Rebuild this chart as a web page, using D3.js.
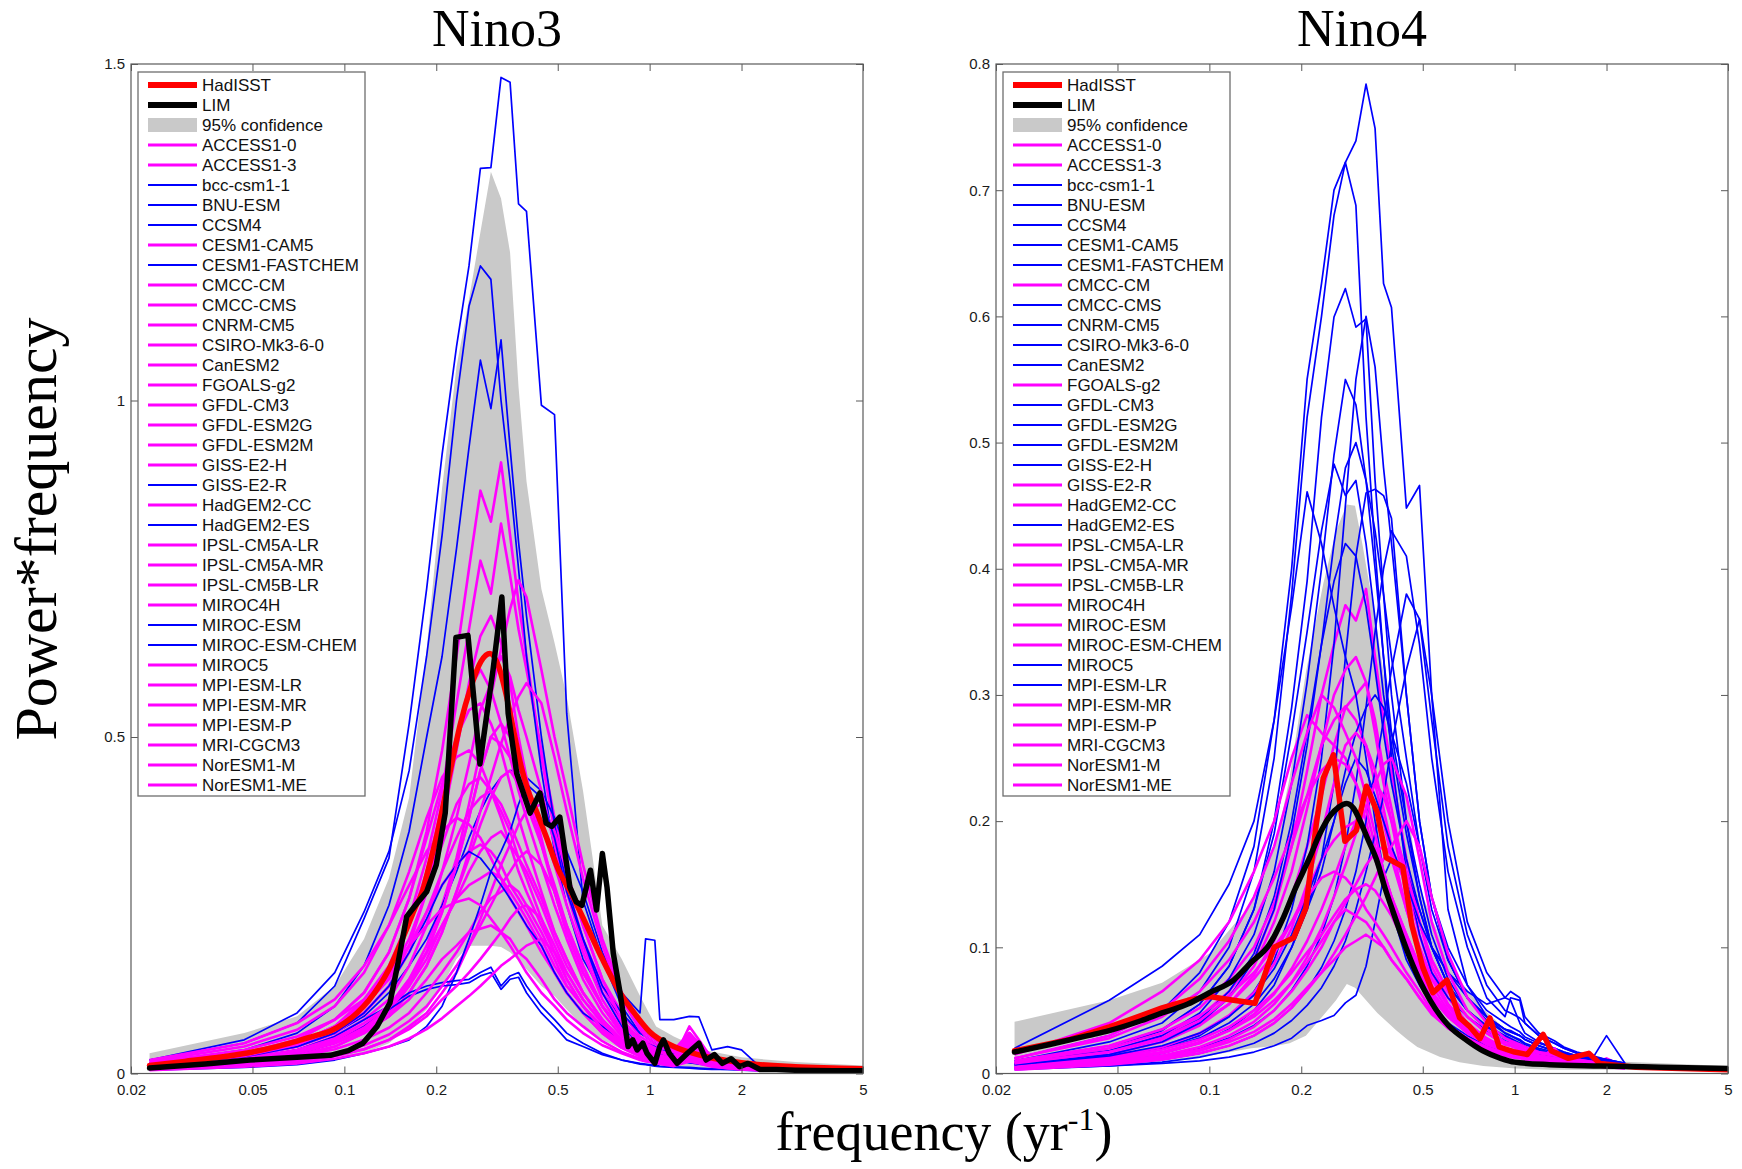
<!DOCTYPE html>
<html>
<head>
<meta charset="utf-8">
<script src="https://cdn.jsdelivr.net/npm/d3@7"></script>
<style>
  body { margin: 0; background: #fff; }
  svg { display: block; }
</style>
</head>
<body>
<svg id="fig" width="1742" height="1169"></svg>
<script>
// ---- shared axis definitions ----
const xTickValues = [0.02, 0.05, 0.1, 0.2, 0.5, 1, 2, 5];
const xTickLabels = ["0.02", "0.05", "0.1", "0.2", "0.5", "1", "2", "5"];
const nino3YTicks = [0, 0.5, 1, 1.5];
const nino3YTickLabels = ["0", "0.5", "1", "1.5"];
const nino4YTicks = [0, 0.1, 0.2, 0.3, 0.4, 0.5, 0.6, 0.7, 0.8];
const nino4YTickLabels = ["0", "0.1", "0.2", "0.3", "0.4", "0.5", "0.6", "0.7", "0.8"];

// ---- CMIP5 models (legend order) ----
const modelNames = ["ACCESS1-0", "ACCESS1-3", "bcc-csm1-1", "BNU-ESM", "CCSM4", "CESM1-CAM5",
  "CESM1-FASTCHEM", "CMCC-CM", "CMCC-CMS", "CNRM-CM5", "CSIRO-Mk3-6-0", "CanESM2", "FGOALS-g2",
  "GFDL-CM3", "GFDL-ESM2G", "GFDL-ESM2M", "GISS-E2-H", "GISS-E2-R", "HadGEM2-CC", "HadGEM2-ES",
  "IPSL-CM5A-LR", "IPSL-CM5A-MR", "IPSL-CM5B-LR", "MIROC4H", "MIROC-ESM", "MIROC-ESM-CHEM",
  "MIROC5", "MPI-ESM-LR", "MPI-ESM-MR", "MPI-ESM-P", "MRI-CGCM3", "NorESM1-M", "NorESM1-ME"];

// models whose Nino variance exceeds the observed range are drawn in blue
const nino3BlueModels = ["bcc-csm1-1", "BNU-ESM", "CCSM4", "CESM1-FASTCHEM", "GISS-E2-R",
  "HadGEM2-ES", "MIROC-ESM", "MIROC-ESM-CHEM"];
const nino4BlueModels = ["bcc-csm1-1", "BNU-ESM", "CCSM4", "CESM1-CAM5", "CESM1-FASTCHEM",
  "CMCC-CMS", "CNRM-CM5", "CSIRO-Mk3-6-0", "CanESM2", "GFDL-CM3", "GFDL-ESM2G", "GFDL-ESM2M",
  "GISS-E2-H", "HadGEM2-ES", "MIROC5", "MPI-ESM-LR"];

// frequency grid (1/yr) of the model spectra
const modelFreq = [0.023, 0.047, 0.07, 0.093, 0.116, 0.14, 0.163, 0.186, 0.209, 0.233,
  0.256, 0.279, 0.302, 0.326, 0.349, 0.372, 0.395, 0.442, 0.488, 0.535,
  0.605, 0.7, 0.81, 0.93, 0.97, 1.04, 1.08, 1.2, 1.35, 1.45,
  1.6, 1.8, 2.0, 2.3];

// ---- Nino3: power*frequency of each model, legend order ----
const nino3Models = [
  [.015,.03,.05,.08,.12,.18,.26,.36,.48,.62,.75,.866,.82,.908,.8,.7,.62,.47,.36,.28,.2,.13,.08,.05,.045,.035,.032,.025,.04,.03,.02,.015,.012,.008],
  [.014,.028,.045,.07,.11,.16,.23,.32,.42,.55,.66,.762,.713,.817,.74,.66,.6,.48,.38,.3,.22,.14,.09,.055,.05,.04,.035,.028,.05,.035,.022,.016,.012,.008],
  [.015,.035,.06,.1,.16,.25,.36,.5,.62,.78,.93,1.06,.988,1.09,.93,.79,.68,.5,.37,.28,.2,.13,.09,.06,.055,.045,.04,.03,.025,.02,.016,.012,.01,.008],
  [.02,.05,.09,.15,.24,.33,.45,.62,.8,1.0,1.14,1.2,1.18,1.0,.88,.75,.62,.45,.33,.25,.17,.12,.08,.05,.045,.04,.035,.03,.022,.02,.016,.012,.01,.007],
  [.02,.045,.075,.13,.23,.32,.52,.72,.92,1.08,1.2,1.345,1.346,1.48,1.473,1.292,1.281,.993,.979,.535,.257,.17,.1,.06,.055,.045,.04,.03,.025,.02,.018,.014,.012,.008],
  [.01,.02,.03,.05,.07,.1,.14,.19,.25,.32,.4,.48,.56,.63,.69,.733,.708,.6,.5,.42,.31,.2,.12,.07,.06,.05,.045,.035,.06,.045,.025,.018,.012,.008],
  [.012,.025,.04,.06,.085,.12,.16,.2,.25,.3,.35,.39,.42,.44,.45,.45,.44,.42,.38,.33,.27,.18,.12,.09,.2,.198,.08,.08,.085,.084,.035,.04,.035,.01],
  [.012,.025,.04,.06,.09,.13,.19,.27,.37,.48,.58,.65,.68,.64,.58,.5,.44,.35,.27,.21,.15,.1,.065,.04,.036,.03,.028,.022,.035,.03,.018,.014,.01,.007],
  [.01,.02,.035,.055,.08,.11,.16,.22,.3,.38,.46,.54,.58,.62,.59,.54,.5,.42,.34,.27,.19,.12,.075,.045,.04,.034,.03,.024,.04,.03,.02,.014,.01,.007],
  [.008,.015,.025,.04,.06,.085,.12,.16,.21,.27,.33,.39,.44,.49,.53,.56,.58,.55,.47,.39,.29,.19,.11,.065,.055,.045,.04,.032,.055,.04,.024,.016,.012,.008],
  [.014,.03,.05,.08,.12,.18,.26,.35,.43,.5,.54,.55,.52,.48,.43,.38,.34,.27,.21,.17,.12,.08,.05,.032,.03,.025,.022,.018,.03,.025,.015,.012,.009,.006],
  [.01,.02,.03,.045,.065,.09,.13,.18,.24,.31,.38,.45,.5,.52,.5,.46,.42,.34,.27,.21,.15,.1,.06,.038,.035,.03,.026,.02,.06,.04,.02,.014,.01,.007],
  [.018,.04,.065,.1,.15,.22,.3,.38,.44,.47,.48,.46,.42,.38,.34,.3,.27,.22,.18,.14,.1,.07,.045,.03,.028,.024,.02,.016,.025,.02,.013,.01,.008,.006],
  [.009,.018,.028,.04,.06,.085,.12,.16,.21,.27,.32,.37,.41,.44,.45,.43,.4,.34,.28,.22,.16,.1,.06,.04,.036,.03,.027,.022,.07,.05,.022,.015,.011,.007],
  [.012,.025,.04,.06,.09,.13,.18,.24,.3,.35,.39,.41,.42,.4,.37,.34,.31,.26,.21,.17,.12,.08,.05,.033,.03,.025,.022,.018,.04,.03,.016,.012,.009,.006],
  [.006,.012,.018,.026,.036,.05,.07,.09,.12,.15,.19,.23,.27,.31,.34,.37,.39,.4,.36,.3,.22,.14,.08,.05,.045,.038,.034,.027,.05,.04,.024,.016,.012,.008],
  [.02,.045,.075,.11,.16,.22,.28,.33,.36,.38,.37,.35,.32,.29,.26,.24,.22,.18,.15,.12,.09,.06,.04,.027,.025,.02,.018,.015,.02,.018,.012,.009,.007,.005],
  [.012,.022,.035,.055,.08,.1,.12,.13,.135,.138,.14,.15,.158,.13,.145,.15,.13,.1,.08,.06,.045,.03,.02,.015,.014,.012,.011,.01,.009,.008,.007,.006,.006,.005],
  [.01,.02,.032,.048,.07,.095,.13,.17,.22,.26,.3,.33,.35,.36,.34,.32,.3,.25,.2,.16,.12,.08,.05,.033,.03,.026,.023,.018,.045,.035,.018,.013,.01,.007],
  [.01,.02,.03,.045,.07,.095,.115,.125,.13,.132,.135,.145,.15,.125,.14,.143,.12,.09,.07,.05,.04,.028,.02,.014,.013,.011,.01,.009,.008,.007,.006,.006,.005,.004],
  [.013,.028,.045,.07,.1,.14,.19,.24,.28,.31,.33,.34,.33,.31,.28,.26,.24,.2,.16,.13,.1,.065,.04,.028,.025,.021,.019,.015,.03,.022,.014,.01,.008,.006],
  [.007,.014,.021,.03,.042,.058,.078,.1,.13,.16,.19,.22,.25,.28,.3,.32,.33,.31,.27,.22,.16,.1,.06,.04,.035,.03,.027,.021,.06,.045,.02,.014,.01,.007],
  [.011,.022,.035,.052,.075,.1,.14,.18,.22,.26,.28,.29,.3,.29,.27,.25,.23,.19,.15,.12,.09,.06,.038,.025,.023,.02,.018,.014,.025,.02,.012,.009,.007,.005],
  [.008,.016,.025,.036,.05,.068,.09,.12,.15,.18,.21,.24,.26,.27,.28,.27,.25,.21,.17,.13,.1,.065,.042,.028,.026,.022,.02,.016,.04,.03,.015,.011,.008,.006],
  [.005,.009,.013,.02,.03,.04,.05,.07,.1,.15,.2,.25,.3,.33,.36,.4,.43,.41,.35,.27,.2,.12,.07,.04,.036,.03,.028,.02,.016,.014,.012,.01,.008,.006],
  [.012,.025,.04,.06,.09,.13,.18,.23,.28,.31,.33,.32,.3,.28,.26,.24,.22,.19,.15,.12,.09,.07,.05,.035,.032,.028,.025,.02,.016,.015,.012,.01,.009,.007],
  [.016,.035,.055,.08,.11,.15,.19,.22,.245,.255,.26,.25,.23,.21,.19,.17,.15,.12,.1,.08,.06,.042,.03,.02,.018,.016,.014,.011,.018,.015,.01,.008,.006,.005],
  [.006,.012,.018,.026,.036,.05,.066,.085,.11,.13,.15,.17,.19,.21,.23,.245,.25,.23,.19,.15,.11,.075,.048,.032,.029,.025,.022,.018,.05,.035,.016,.012,.009,.006],
  [.01,.02,.03,.045,.062,.085,.11,.14,.17,.19,.21,.215,.22,.21,.2,.18,.17,.14,.11,.09,.07,.048,.032,.022,.02,.018,.016,.013,.022,.018,.011,.008,.006,.005],
  [.005,.01,.015,.022,.03,.04,.052,.066,.082,.1,.115,.13,.145,.16,.17,.18,.19,.2,.18,.15,.11,.075,.05,.034,.03,.026,.023,.019,.04,.03,.016,.012,.009,.006],
  [.012,.026,.043,.066,.1,.145,.2,.27,.34,.4,.43,.44,.42,.39,.36,.32,.29,.23,.18,.14,.1,.066,.042,.028,.026,.022,.02,.016,.03,.024,.014,.01,.008,.006],
  [.009,.018,.03,.046,.068,.097,.135,.18,.24,.31,.38,.45,.5,.49,.47,.44,.42,.37,.31,.25,.18,.11,.065,.04,.036,.03,.027,.022,.045,.035,.02,.014,.01,.007],
  [.013,.027,.045,.07,.105,.15,.22,.3,.4,.5,.57,.6,.57,.52,.47,.42,.38,.31,.25,.2,.14,.09,.055,.035,.032,.027,.024,.019,.03,.025,.016,.012,.009,.006]
];

// ---- Nino3: observations, LIM and 95% band ----
const nino3HadFreq = [0.023,0.03,0.04,0.05,0.06,0.07,0.08,0.09,0.1,0.11,0.12,0.13,0.14,0.15,0.16,0.17,0.18,0.19,0.2,0.22,0.24,0.26,0.28,0.3,0.32,0.34,0.36,0.38,0.4,0.43,0.46,0.5,0.55,0.6,0.7,0.8,0.9,1.0,1.2,1.5,2,3,5];
const nino3HadVal = [0.012,0.018,0.025,0.032,0.04,0.048,0.056,0.063,0.075,0.09,0.108,0.13,0.155,0.185,0.215,0.245,0.27,0.31,0.35,0.44,0.52,0.575,0.612,0.624,0.605,0.56,0.505,0.455,0.42,0.385,0.35,0.305,0.27,0.235,0.17,0.12,0.087,0.062,0.04,0.026,0.016,0.01,0.007];
const nino3LimFreq = [0.023,0.035,0.049,0.07,0.09,0.103,0.115,0.128,0.141,0.15,0.16,0.173,0.186,0.2,0.214,0.232,0.254,0.278,0.307,0.328,0.344,0.367,0.406,0.437,0.458,0.478,0.508,0.548,0.575,0.6,0.64,0.67,0.70,0.725,0.76,0.80,0.85,0.88,0.91,0.95,0.98,1.04,1.08,1.11,1.16,1.23,1.33,1.45,1.53,1.63,1.73,1.85,1.97,2.1,2.3,2.6,3,4,5];
const nino3LimVal = [0.008,0.014,0.02,0.024,0.027,0.034,0.045,0.07,0.105,0.165,0.233,0.253,0.27,0.31,0.387,0.648,0.651,0.46,0.6,0.708,0.535,0.446,0.387,0.417,0.372,0.367,0.381,0.277,0.255,0.25,0.302,0.243,0.327,0.277,0.179,0.12,0.04,0.05,0.035,0.045,0.03,0.015,0.04,0.05,0.03,0.015,0.03,0.045,0.02,0.028,0.015,0.022,0.01,0.015,0.006,0.006,0.005,0.004,0.004];
const nino3BandFreq = [0.023,0.047,0.07,0.093,0.116,0.14,0.163,0.186,0.209,0.233,0.256,0.279,0.302,0.326,0.349,0.372,0.395,0.442,0.488,0.535,0.605,0.7,0.81,0.93,1.05,1.2,1.5,2,3,5];
const nino3BandUpper = [0.03,0.06,0.085,0.13,0.2,0.29,0.41,0.63,0.87,1.05,1.15,1.25,1.34,1.3,1.22,1.02,0.88,0.72,0.64,0.56,0.42,0.22,0.17,0.115,0.07,0.055,0.035,0.024,0.017,0.012];
const nino3BandLower = [0.008,0.013,0.016,0.024,0.03,0.045,0.07,0.095,0.13,0.17,0.19,0.19,0.19,0.188,0.18,0.168,0.155,0.13,0.115,0.095,0.07,0.05,0.036,0.024,0.018,0.012,0.008,0.006,0.005,0.004];

// ---- Nino4: power*frequency of each model, legend order ----
const nino4Models = [
  [.008,.018,.03,.045,.065,.09,.13,.18,.24,.3,.34,.371,.359,.384,.33,.28,.24,.17,.12,.085,.06,.04,.028,.02,.019,.017,.015,.013,.011,.01,.009,.008,.007,.005],
  [.007,.015,.025,.038,.055,.078,.105,.14,.18,.22,.26,.29,.3,.31,.28,.24,.21,.15,.11,.08,.055,.037,.026,.019,.018,.016,.014,.012,.011,.01,.009,.008,.012,.005],
  [.012,.03,.05,.08,.12,.18,.28,.4,.55,.626,.70,.722,.739,.784,.749,.626,.607,.448,.466,.3,.13,.07,.045,.032,.03,.026,.023,.019,.016,.014,.012,.01,.008,.006],
  [.01,.025,.04,.065,.1,.16,.25,.38,.52,.6,.68,.722,.688,.52,.415,.33,.25,.16,.11,.08,.06,.045,.034,.026,.024,.021,.019,.016,.013,.012,.01,.008,.007,.005],
  [.008,.02,.034,.055,.085,.13,.2,.29,.39,.52,.5995,.622,.5915,.598,.47,.38,.3,.2,.14,.1,.07,.05,.038,.03,.028,.024,.021,.018,.015,.013,.011,.009,.008,.006],
  [.01,.022,.035,.055,.085,.13,.19,.27,.35,.43,.483,.458,.47,.42,.36,.3,.26,.19,.14,.1,.07,.05,.037,.029,.027,.024,.021,.018,.015,.013,.011,.009,.008,.006],
  [.02,.058,.085,.11,.15,.2,.28,.37,.461,.42,.37,.33,.3,.25,.2,.16,.13,.09,.07,.055,.04,.03,.022,.017,.016,.014,.013,.011,.01,.009,.008,.007,.006,.005],
  [.015,.04,.065,.09,.12,.16,.2,.25,.284,.27,.26,.25,.23,.2,.17,.15,.13,.1,.075,.06,.045,.032,.023,.018,.017,.015,.013,.011,.01,.009,.008,.007,.006,.005],
  [.005,.01,.016,.024,.035,.05,.07,.1,.13,.17,.23,.33,.41,.46,.463,.458,.44,.3,.2,.14,.09,.06,.042,.032,.03,.027,.024,.02,.017,.015,.012,.01,.009,.007],
  [.004,.006,.008,.01,.013,.017,.022,.028,.038,.042,.046,.056,.062,.085,.12,.155,.17,.16,.13,.1,.07,.05,.035,.025,.024,.021,.019,.016,.013,.012,.01,.008,.007,.005],
  [.008,.017,.028,.043,.065,.095,.14,.2,.27,.34,.39,.42,.41,.37,.32,.27,.23,.17,.13,.1,.08,.065,.055,.06,.058,.04,.032,.025,.02,.017,.014,.012,.01,.007],
  [.006,.012,.02,.03,.045,.065,.09,.13,.18,.25,.34,.45,.55,.6,.56,.48,.42,.3,.2,.14,.09,.06,.045,.035,.034,.03,.027,.022,.018,.016,.013,.011,.009,.007],
  [.01,.022,.035,.052,.075,.1,.135,.18,.22,.26,.28,.291,.28,.26,.23,.2,.17,.13,.1,.075,.055,.038,.027,.02,.019,.017,.015,.013,.011,.01,.009,.008,.007,.005],
  [.005,.009,.014,.02,.028,.038,.05,.066,.085,.11,.14,.18,.23,.29,.35,.4,.43,.41,.34,.25,.16,.1,.06,.045,.06,.058,.04,.03,.024,.02,.016,.013,.011,.008],
  [.004,.007,.011,.016,.022,.03,.04,.052,.066,.084,.105,.13,.16,.2,.24,.28,.32,.38,.36,.28,.18,.11,.07,.05,.048,.044,.04,.03,.024,.02,.016,.013,.011,.008],
  [.006,.012,.019,.028,.04,.055,.075,.1,.13,.16,.2,.24,.27,.29,.3,.29,.27,.23,.18,.14,.1,.07,.05,.04,.037,.033,.029,.024,.02,.017,.014,.012,.01,.007],
  [.008,.018,.03,.048,.075,.11,.16,.23,.31,.4,.49,.55,.53,.47,.4,.33,.27,.2,.15,.11,.075,.05,.037,.028,.026,.023,.021,.018,.015,.013,.011,.009,.008,.006],
  [.006,.013,.021,.032,.046,.064,.087,.115,.15,.19,.23,.26,.27,.26,.24,.21,.18,.13,.095,.07,.05,.035,.025,.018,.017,.015,.014,.012,.02,.012,.009,.008,.007,.005],
  [.012,.028,.045,.065,.09,.12,.155,.19,.22,.24,.25,.245,.23,.21,.18,.16,.14,.11,.085,.065,.048,.034,.025,.019,.018,.016,.014,.012,.011,.01,.009,.008,.007,.005],
  [.003,.006,.009,.013,.018,.024,.032,.042,.054,.068,.085,.105,.13,.16,.19,.22,.26,.32,.36,.3,.2,.12,.08,.06,.065,.06,.045,.032,.026,.021,.017,.014,.011,.008],
  [.005,.01,.016,.024,.034,.047,.063,.083,.105,.13,.155,.18,.2,.22,.23,.22,.2,.16,.12,.09,.065,.045,.032,.023,.022,.019,.017,.014,.012,.011,.01,.008,.007,.005],
  [.008,.017,.027,.04,.055,.075,.095,.12,.145,.17,.185,.195,.2,.19,.175,.16,.14,.11,.085,.065,.048,.034,.025,.019,.018,.016,.014,.012,.011,.01,.009,.008,.007,.005],
  [.004,.008,.013,.019,.027,.037,.05,.065,.082,.1,.12,.135,.15,.165,.175,.18,.175,.15,.12,.09,.065,.045,.032,.023,.022,.019,.017,.014,.012,.011,.01,.008,.007,.005],
  [.009,.02,.032,.046,.062,.08,.1,.12,.14,.155,.16,.155,.145,.13,.12,.11,.1,.08,.065,.05,.038,.028,.021,.016,.015,.014,.012,.011,.01,.009,.008,.007,.006,.005],
  [.006,.012,.019,.027,.037,.05,.064,.08,.096,.11,.125,.138,.146,.15,.145,.135,.125,.1,.08,.062,.046,.033,.024,.018,.017,.015,.013,.012,.01,.009,.008,.007,.006,.005],
  [.005,.011,.017,.025,.034,.045,.058,.072,.088,.105,.12,.13,.125,.12,.11,.1,.09,.075,.06,.048,.036,.027,.02,.015,.014,.013,.012,.01,.009,.008,.007,.006,.006,.004],
  [.007,.014,.022,.032,.045,.062,.083,.11,.14,.17,.2,.23,.25,.24,.22,.2,.18,.15,.12,.1,.08,.06,.045,.035,.033,.03,.027,.022,.018,.016,.014,.012,.03,.008],
  [.007,.015,.025,.04,.06,.09,.13,.19,.26,.34,.42,.48,.5,.47,.43,.38,.33,.25,.18,.13,.09,.06,.045,.035,.033,.03,.027,.022,.018,.015,.013,.011,.009,.007],
  [.004,.008,.012,.018,.025,.033,.043,.055,.068,.08,.09,.1,.105,.11,.105,.1,.09,.075,.06,.047,.036,.026,.019,.014,.013,.012,.011,.01,.009,.008,.007,.006,.005,.004],
  [.004,.009,.014,.021,.03,.041,.055,.072,.092,.115,.14,.165,.19,.21,.23,.245,.25,.22,.17,.12,.08,.05,.035,.025,.024,.021,.019,.016,.014,.013,.011,.009,.008,.006],
  [.008,.017,.028,.042,.06,.085,.12,.16,.21,.26,.3,.32,.33,.31,.27,.23,.2,.14,.1,.075,.053,.036,.026,.019,.018,.016,.014,.012,.011,.01,.009,.008,.007,.005],
  [.003,.007,.011,.016,.022,.03,.04,.052,.066,.08,.095,.11,.125,.14,.155,.17,.18,.2,.18,.14,.095,.06,.04,.028,.026,.023,.021,.017,.015,.013,.011,.009,.008,.006],
  [.012,.03,.05,.075,.105,.14,.18,.23,.27,.3,.29,.27,.25,.22,.19,.16,.14,.105,.08,.06,.045,.032,.024,.018,.017,.015,.013,.011,.01,.009,.008,.007,.006,.005]
];

// ---- Nino4: observations, LIM and 95% band ----
const nino4HadFreq = [0.023,0.035,0.047,0.06,0.07,0.085,0.1,0.12,0.141,0.163,0.189,0.207,0.224,0.236,0.255,0.278,0.303,0.327,0.354,0.38,0.43,0.46,0.5,0.54,0.6,0.66,0.71,0.77,0.83,0.89,1.0,1.1,1.24,1.32,1.5,1.75,1.9,2.5,3.5,5];
const nino4HadVal = [0.018,0.027,0.037,0.046,0.052,0.058,0.061,0.058,0.0556,0.1,0.1076,0.131,0.1976,0.234,0.2526,0.184,0.1926,0.2277,0.2076,0.171,0.164,0.118,0.0843,0.064,0.074,0.0443,0.0376,0.0276,0.044,0.021,0.017,0.015,0.031,0.0178,0.012,0.016,0.008,0.005,0.004,0.003];
const nino4LimFreq = [0.023,0.03,0.04,0.047,0.06,0.07,0.085,0.1,0.12,0.137,0.157,0.175,0.19,0.213,0.23,0.248,0.265,0.282,0.297,0.312,0.33,0.355,0.375,0.4,0.425,0.455,0.49,0.53,0.57,0.61,0.7,0.79,0.9,1.0,1.3,1.9,3,5];
const nino4LimVal = [0.017,0.023,0.03,0.034,0.042,0.048,0.055,0.064,0.074,0.088,0.102,0.124,0.145,0.171,0.19,0.204,0.211,0.214,0.21,0.2,0.186,0.1676,0.148,0.128,0.11,0.091,0.073,0.0576,0.046,0.0376,0.026,0.0178,0.012,0.009,0.007,0.006,0.005,0.004];
const nino4BandFreq = [0.023,0.047,0.07,0.1,0.137,0.166,0.183,0.207,0.236,0.26,0.282,0.3,0.318,0.355,0.41,0.445,0.48,0.57,0.66,0.79,1.01,1.3,2,5];
const nino4BandUpper = [0.041,0.058,0.072,0.095,0.134,0.184,0.234,0.3176,0.388,0.43,0.451,0.45,0.418,0.351,0.244,0.2176,0.151,0.1076,0.074,0.051,0.0276,0.0178,0.01,0.006];
const nino4BandLower = [0.004,0.007,0.01,0.014,0.02,0.022,0.024,0.03,0.046,0.058,0.071,0.068,0.061,0.048,0.034,0.027,0.021,0.013,0.009,0.006,0.004,0.003,0.003,0.002];

// ---- drawing ----
const svg = d3.select("#fig");
const plotTop = 64, plotBottom = 1073.5;
const BLUE = "#0000ff", MAGENTA = "#ff00ff", RED = "#ff0000", BAND = "#c9c9c9";
const sansFont = "'Liberation Sans', Arial, Helvetica, sans-serif";
const serifFont = "'Liberation Serif', 'Times New Roman', Times, serif";

const panels = [
  { title: "Nino3", left: 131, right: 863, yMax: 1.5, yTicks: nino3YTicks, yLabels: nino3YTickLabels,
    models: nino3Models, blue: new Set(nino3BlueModels),
    had: { f: nino3HadFreq, v: nino3HadVal, smooth: true },
    lim: { f: nino3LimFreq, v: nino3LimVal, smooth: false },
    band: { f: nino3BandFreq, lo: nino3BandLower, hi: nino3BandUpper } },
  { title: "Nino4", left: 996, right: 1728, yMax: 0.8, yTicks: nino4YTicks, yLabels: nino4YTickLabels,
    models: nino4Models, blue: new Set(nino4BlueModels),
    had: { f: nino4HadFreq, v: nino4HadVal, smooth: false },
    lim: { f: nino4LimFreq, v: nino4LimVal, smooth: true },
    band: { f: nino4BandFreq, lo: nino4BandLower, hi: nino4BandUpper } }
];

panels.forEach((p, pi) => {
  const x = d3.scaleLog().domain([0.02, 5]).range([p.left, p.right]);
  const y = d3.scaleLinear().domain([0, p.yMax]).range([plotBottom, plotTop]);
  const g = svg.append("g");

  const clipId = "clip" + pi;
  svg.append("clipPath").attr("id", clipId).append("rect")
    .attr("x", p.left).attr("y", plotTop)
    .attr("width", p.right - p.left).attr("height", plotBottom - plotTop);
  const plot = g.append("g").attr("clip-path", `url(#${clipId})`);

  // 95% confidence band
  const bandPts = p.band.f.map((f, i) => ({ f, lo: p.band.lo[i], hi: p.band.hi[i] }));
  plot.append("path").datum(bandPts)
    .attr("fill", BAND).attr("stroke", "none")
    .attr("d", d3.area().x(d => x(d.f)).y0(d => y(d.lo)).y1(d => y(d.hi)));

  // model spectra
  const line = d3.line().x(d => x(d[0])).y(d => y(d[1]));
  p.models.forEach((vals, mi) => {
    const isBlue = p.blue.has(modelNames[mi]);
    plot.append("path").datum(modelFreq.map((f, k) => [f, vals[k]]))
      .attr("fill", "none")
      .attr("stroke", isBlue ? BLUE : MAGENTA)
      .attr("stroke-width", isBlue ? 1.7 : 2.6)
      .attr("stroke-linejoin", "round")
      .attr("d", line);
  });

  // HadISST and LIM
  const thick = (s, color) => {
    const gen = d3.line().x(d => x(d[0])).y(d => y(d[1]));
    if (s.smooth) gen.curve(d3.curveMonotoneX);
    plot.append("path").datum(s.f.map((f, k) => [f, s.v[k]]))
      .attr("fill", "none").attr("stroke", color).attr("stroke-width", 5.5)
      .attr("stroke-linejoin", "round").attr("stroke-linecap", "round")
      .attr("d", gen);
  };
  thick(p.had, RED);
  thick(p.lim, "#000");

  // axes (ticks point inward on all four sides)
  const axisColor = "#5a5a5a";
  const styleAxis = sel => {
    sel.select(".domain").remove();
    sel.selectAll(".tick line").attr("stroke", axisColor);
    sel.selectAll(".tick text").attr("fill", "#1a1a1a")
      .style("font-family", sansFont).style("font-size", "15px");
  };
  g.append("g").attr("transform", `translate(0,${plotBottom})`)
    .call(d3.axisBottom(x).tickValues(xTickValues).tickFormat((d, i) => xTickLabels[i])
      .tickSizeInner(-7).tickSizeOuter(0).tickPadding(11))
    .call(styleAxis);
  g.append("g").attr("transform", `translate(0,${plotTop})`)
    .call(d3.axisTop(x).tickValues(xTickValues).tickFormat("").tickSizeInner(-7).tickSizeOuter(0))
    .call(styleAxis);
  g.append("g").attr("transform", `translate(${p.left},0)`)
    .call(d3.axisLeft(y).tickValues(p.yTicks).tickFormat((d, i) => p.yLabels[i])
      .tickSizeInner(-7).tickSizeOuter(0).tickPadding(6))
    .call(styleAxis);
  g.append("g").attr("transform", `translate(${p.right},0)`)
    .call(d3.axisRight(y).tickValues(p.yTicks).tickFormat("").tickSizeInner(-7).tickSizeOuter(0))
    .call(styleAxis);
  g.append("rect").attr("x", p.left).attr("y", plotTop)
    .attr("width", p.right - p.left).attr("height", plotBottom - plotTop)
    .attr("fill", "none").attr("stroke", axisColor).attr("stroke-width", 1.2);

  // legend
  const lx = p.left + 7, ly = plotTop + 8, lw = 227, rowH = 20;
  const entries = [
    { label: "HadISST", kind: "line", color: RED, w: 6 },
    { label: "LIM", kind: "line", color: "#000", w: 6 },
    { label: "95% confidence", kind: "band" }
  ].concat(modelNames.map(n => {
    const b = p.blue.has(n);
    return { label: n, kind: "line", color: b ? BLUE : MAGENTA, w: b ? 2 : 3 };
  }));
  const leg = g.append("g");
  leg.append("rect").attr("x", lx).attr("y", ly).attr("width", lw)
    .attr("height", entries.length * rowH + 4)
    .attr("fill", "#fff").attr("stroke", "#6e6e6e").attr("stroke-width", 1.3);
  entries.forEach((e, i) => {
    const cy = ly + 13 + i * rowH;
    if (e.kind === "band") {
      leg.append("rect").attr("x", lx + 10).attr("y", cy - 7).attr("width", 49).attr("height", 14)
        .attr("fill", BAND);
    } else {
      leg.append("line").attr("x1", lx + 10).attr("x2", lx + 59).attr("y1", cy).attr("y2", cy)
        .attr("stroke", e.color).attr("stroke-width", e.w);
    }
    leg.append("text").attr("x", lx + 64).attr("y", cy).attr("dy", "0.36em")
      .style("font-family", sansFont).style("font-size", "17px").attr("fill", "#111")
      .text(e.label);
  });

  // panel title
  g.append("text").attr("x", (p.left + p.right) / 2).attr("y", 46)
    .attr("text-anchor", "middle").style("font-family", serifFont).style("font-size", "52px")
    .attr("fill", "#000").text(p.title);
});

// shared axis titles
svg.append("text").attr("transform", "translate(56,529) rotate(-90)")
  .attr("text-anchor", "middle").style("font-family", serifFont).style("font-size", "60px")
  .attr("fill", "#000").text("Power*frequency");

const xTitle = svg.append("text").attr("x", 944).attr("y", 1150).attr("text-anchor", "middle")
  .style("font-family", serifFont).style("font-size", "54px").attr("fill", "#000");
xTitle.append("tspan").text("frequency (yr");
xTitle.append("tspan").attr("dy", -20).style("font-size", "32px").text("-1");
xTitle.append("tspan").attr("dy", 20).text(")");
</script>
</body>
</html>
